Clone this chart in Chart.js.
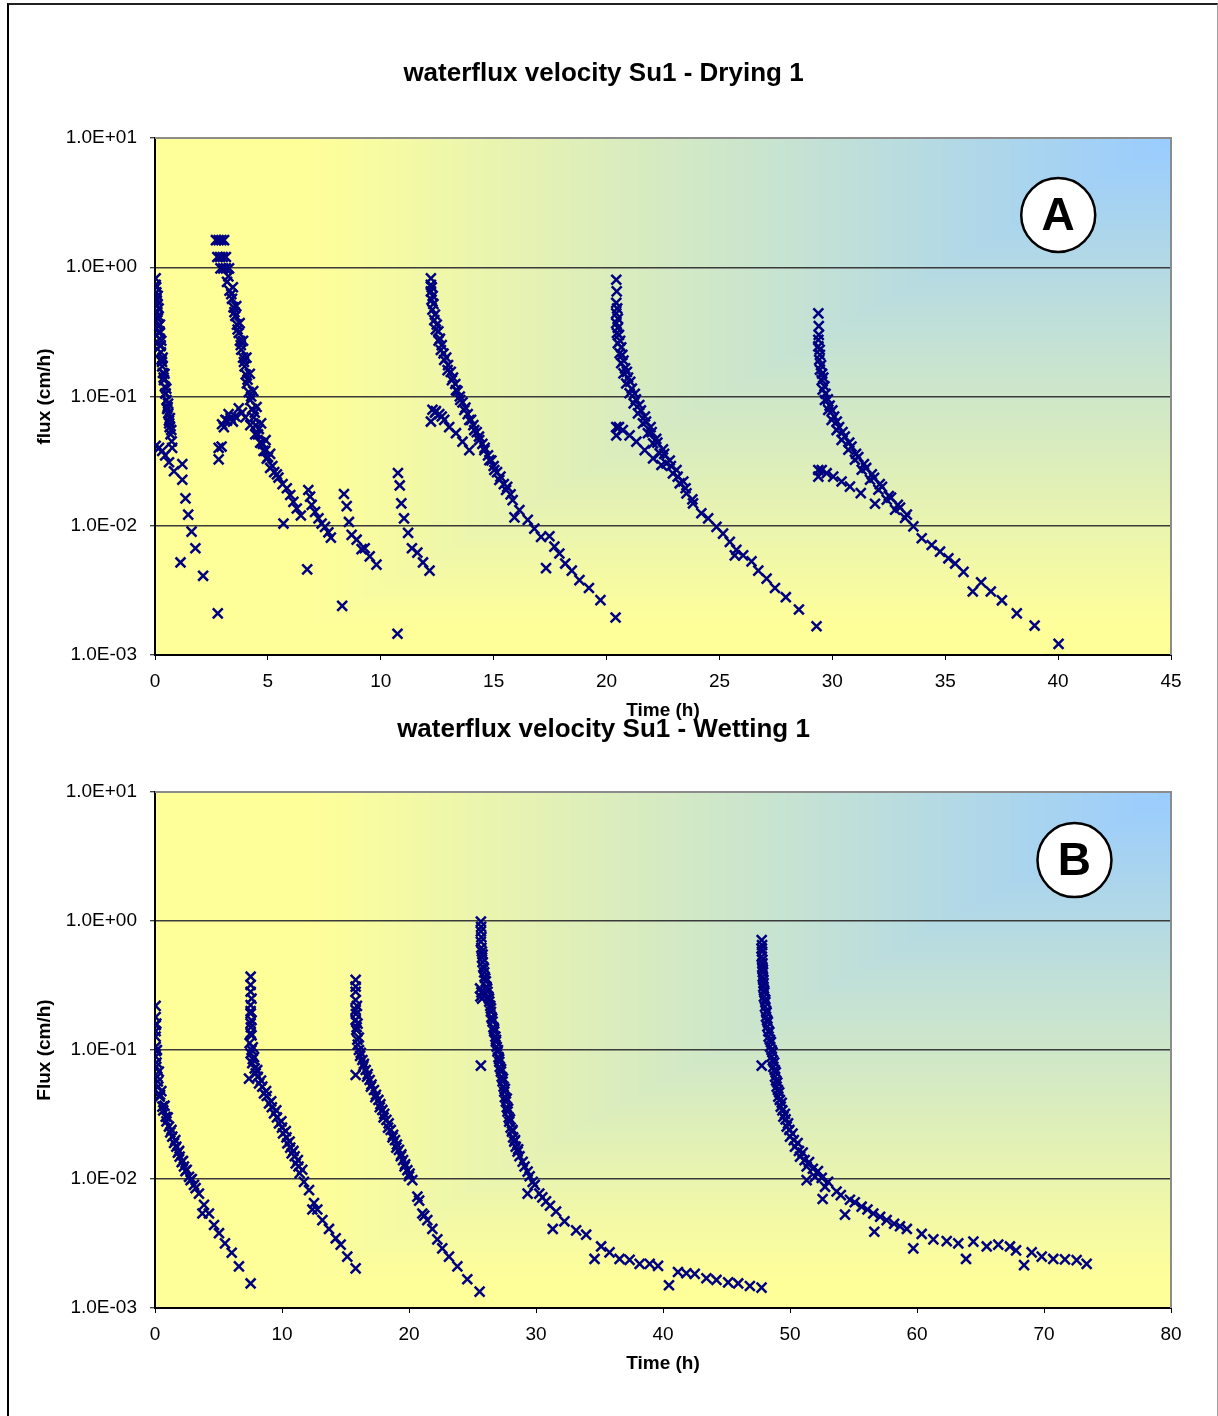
<!DOCTYPE html>
<html>
<head>
<meta charset="utf-8">
<title>waterflux velocity Su1</title>
<script src="https://cdn.jsdelivr.net/npm/chart.js@4.4.1/dist/chart.umd.min.js"></script>
<style>
  html, body { margin: 0; padding: 0; background: #fff; }
  body { width: 1218px; height: 1416px; position: relative; overflow: hidden; }
  #frame { position: absolute; left: 7px; top: 3px; width: 1211px; height: 1430px; box-sizing: border-box;
           border-top: 2px solid #222; border-left: 2px solid #000; border-right: 1px solid #a0a0a0; }
  canvas { position: absolute; left: 0; }
  #dryingChart { top: 0; }
  #wettingChart { top: 660px; }
</style>
</head>
<body>
<div id="frame"></div>
<canvas id="dryingChart" width="1218" height="725"></canvas>
<canvas id="wettingChart" width="1218" height="756"></canvas>
<script>
// ---- Data: [time (h), flux (cm/h)] ----

// Drying 1 (panel A)
const dry1 = [
  [0.03,0.82],[0.03,0.73],[0.06,0.64],[0.06,0.57],[0.09,0.51],[0.10,0.45],[0.12,0.40],[0.15,0.35],[0.18,0.31],
  [0.21,0.28],[0.24,0.245],[0.26,0.22],[0.29,0.193],[0.32,0.171],[0.35,0.152],[0.40,0.134],[0.44,0.119],
  [0.47,0.106],[0.51,0.094],[0.56,0.083],[0.59,0.074],[0.62,0.065],[0.65,0.058],[0.69,0.051],[0.74,0.045],[0.76,0.040],
  [0.12,0.60],[0.16,0.48],[0.22,0.36],[0.28,0.27],[0.34,0.20],[0.42,0.15],[0.50,0.115],[0.58,0.088],[0.66,0.068],[0.72,0.055],
  [0.05,0.70],[0.08,0.55],[0.14,0.42],[0.20,0.32],[0.25,0.25],[0.31,0.185],[0.38,0.14],[0.46,0.105],[0.54,0.080],[0.63,0.062],
  [0.03,0.0415],[0.18,0.040],[0.32,0.038],[0.45,0.035],[0.62,0.031],[0.84,0.0264],[1.21,0.030],[1.21,0.0227],
  [1.35,0.0163],[1.47,0.0122],[1.62,0.0090],[1.79,0.0067],[1.13,0.0052],[2.13,0.0041],[2.78,0.0021]
];
const dry2 = [
  [2.70,1.62],[2.82,1.62],[2.94,1.62],[3.06,1.62],[2.76,1.20],[2.88,1.20],[3.00,1.20],[3.14,1.20],
  [2.90,0.98],[3.02,0.98],[3.14,0.98],[3.28,0.98],
  [3.19,0.77],[3.30,0.66],[3.41,0.57],[3.48,0.49],[3.56,0.42],[3.63,0.36],[3.71,0.31],[3.76,0.27],[3.82,0.23],
  [3.90,0.20],[3.97,0.171],[4.02,0.148],[4.07,0.126],[4.15,0.108],[4.22,0.094],[4.30,0.080],[4.37,0.069],
  [4.46,0.060],[4.56,0.051],[4.68,0.044],[4.81,0.038],[4.95,0.033],[5.10,0.028],[5.28,0.026],[5.47,0.0236],
  [5.65,0.021],[5.84,0.0195],[5.99,0.0173],[6.13,0.0153],[6.28,0.0136],[6.46,0.0120],[5.69,0.0104],
  [3.45,0.70],[3.60,0.50],[3.75,0.37],[3.90,0.27],[4.05,0.20],[4.20,0.150],[4.35,0.110],[4.50,0.083],
  [4.70,0.062],[4.90,0.046],[5.10,0.036],
  [3.25,0.85],[3.38,0.62],[3.52,0.45],[3.66,0.33],[3.80,0.25],[3.94,0.185],[4.10,0.135],[4.26,0.100],
  [4.42,0.075],[4.60,0.056],[4.78,0.043],[5.00,0.034],[5.20,0.029],[5.40,0.025],
  [2.82,0.0326],[2.82,0.040],[2.95,0.041],[2.97,0.061],[3.05,0.058],[3.12,0.066],[3.19,0.065],[3.26,0.073],
  [3.35,0.068],[3.45,0.064],[3.55,0.070],[3.71,0.081],[3.85,0.075],[4.00,0.069],[4.22,0.060],[4.44,0.051],
  [4.66,0.044],[4.88,0.038]
];
const dry3 = [
  [6.79,0.0189],[6.87,0.0168],[6.94,0.0145],[7.09,0.0128],[7.24,0.0114],[7.38,0.0104],[7.53,0.0098],
  [7.68,0.0089],[7.79,0.0081],[6.74,0.0046]
];
const dry4 = [
  [8.37,0.0176],[8.49,0.0142],[8.59,0.0107],[8.71,0.0085],[8.93,0.0078],[9.15,0.0066],[9.29,0.0067],
  [9.51,0.0058],[9.81,0.0050],[8.29,0.0024]
];
const dry5 = [
  [10.76,0.0256],[10.84,0.0205],[10.91,0.0149],[11.03,0.0114],[11.21,0.0088],[11.38,0.0067],[11.62,0.0062],
  [11.87,0.0052],[12.16,0.0045],[10.74,0.00146]
];
const dry6 = [
  [12.22,0.82],[12.22,0.73],[12.22,0.65],[12.25,0.56],[12.29,0.47],[12.37,0.39],[12.44,0.33],[12.56,0.27],
  [12.66,0.229],[12.81,0.192],[12.96,0.160],[13.15,0.134],[13.33,0.112],[13.52,0.094],[13.70,0.0786],
  [13.92,0.0658],[14.14,0.055],[14.36,0.046],[14.59,0.0385],[14.81,0.0322],[15.03,0.027],[15.25,0.0226],
  [15.55,0.0189],[15.84,0.0158],[16.14,0.0132],[16.51,0.0111],[16.80,0.0095],[17.10,0.0082],[17.47,0.0083],
  [17.69,0.0069],[17.91,0.0061],[18.17,0.0051],[18.46,0.0045],[18.80,0.0038],[19.22,0.0033],[19.73,0.00266],
  [20.40,0.00195],[17.32,0.0047],[15.92,0.0116],
  [12.30,0.60],[12.40,0.43],[12.55,0.32],[12.70,0.25],[12.90,0.20],[13.10,0.155],[13.30,0.125],[13.50,0.100],
  [13.75,0.082],[14.00,0.066],[14.25,0.053],[14.50,0.043],[14.75,0.035],[15.00,0.029],[15.30,0.024],[15.60,0.020],
  [12.26,0.70],[12.33,0.52],[12.48,0.36],[12.62,0.28],[12.78,0.215],[12.98,0.175],[13.20,0.140],[13.40,0.110],
  [13.62,0.090],[13.85,0.073],[14.10,0.060],[14.35,0.049],[14.60,0.040],[14.90,0.032],[15.15,0.026],
  [15.45,0.021],[15.75,0.0175],
  [12.22,0.064],[12.29,0.079],[12.40,0.075],[12.44,0.077],[12.59,0.073],[12.70,0.070],[12.81,0.066],
  [13.03,0.058],[13.33,0.052],[13.62,0.0447],[13.92,0.0385]
];
const dry7 = [
  [20.43,0.80],[20.43,0.53],[20.43,0.44],[20.43,0.37],[20.46,0.31],[20.50,0.258],[20.58,0.216],[20.65,0.181],
  [20.75,0.151],[20.87,0.126],[21.02,0.106],[21.20,0.0885],[21.39,0.074],[21.61,0.062],[21.83,0.052],
  [22.06,0.0434],[22.35,0.0363],[22.65,0.0304],[22.94,0.0254],[23.24,0.0213],[23.54,0.0178],[23.83,0.0149],
  [24.20,0.0125],[24.50,0.0114],[24.87,0.0098],[25.16,0.0087],[25.46,0.0075],[25.75,0.0065],[26.05,0.0059],
  [26.42,0.0053],[26.72,0.0045],[27.09,0.0039],[27.46,0.0033],[27.94,0.0028],[28.52,0.00225],[29.30,0.00167],
  [25.68,0.0059],
  [20.50,0.40],[20.55,0.30],[20.65,0.24],[20.75,0.19],[20.90,0.155],[21.05,0.130],[21.25,0.105],[21.45,0.086],
  [21.70,0.070],[21.95,0.058],[22.20,0.047],[22.50,0.039],[22.80,0.032],[23.10,0.027],[23.40,0.022],
  [20.45,0.65],[20.47,0.48],[20.50,0.34],[20.60,0.27],[20.70,0.21],[20.82,0.165],[20.95,0.140],[21.12,0.115],
  [21.30,0.095],[21.52,0.078],[21.75,0.064],[22.00,0.053],[22.25,0.044],[22.55,0.036],[22.85,0.029],
  [23.15,0.024],[23.50,0.0195],[23.80,0.016],
  [20.43,0.050],[20.43,0.058],[20.55,0.058],[20.72,0.055],[21.02,0.050],[21.32,0.0447],[21.69,0.0385],
  [22.06,0.0332],[22.43,0.0295]
];
const dry8 = [
  [29.38,0.44],[29.38,0.274],[29.38,0.244],[29.42,0.192],[29.45,0.161],[29.53,0.134],[29.57,0.113],[29.67,0.094],
  [29.82,0.0788],[29.97,0.066],[30.19,0.055],[30.41,0.0462],[30.71,0.0387],[31.00,0.0324],[31.30,0.0271],
  [31.67,0.0227],[32.04,0.019],[32.41,0.0159],[32.78,0.0133],[33.22,0.0115],[33.59,0.0099],[33.96,0.0080],
  [34.40,0.0071],[34.77,0.0063],[35.14,0.0056],[35.44,0.0051],[35.81,0.0044],[36.22,0.0031],[36.59,0.00365],
  [37.02,0.0031],[37.51,0.00265],[38.17,0.0021],[38.96,0.00169],[40.02,0.00122],
  [29.45,0.21],[29.55,0.15],[29.65,0.12],[29.80,0.095],[30.00,0.078],[30.20,0.064],[30.45,0.053],[30.75,0.044],
  [31.05,0.036],[31.40,0.030],[31.75,0.025],[32.10,0.021],[32.50,0.017],[32.90,0.0145],[33.30,0.0122],
  [29.40,0.35],[29.40,0.30],[29.44,0.23],[29.50,0.175],[29.60,0.140],[29.70,0.105],[29.88,0.085],[30.08,0.070],
  [30.30,0.058],[30.55,0.049],[30.85,0.041],[31.15,0.034],[31.50,0.028],[31.85,0.0235],[32.20,0.020],
  [32.60,0.0165],[33.00,0.0138],
  [29.38,0.024],[29.38,0.027],[29.53,0.027],[29.75,0.0255],[30.04,0.024],[30.41,0.022],[30.78,0.0201],
  [31.26,0.0179],[31.89,0.0148]
];

// Wetting 1 (panel B)
const wet1 = [
  [0.05,0.22],[0.05,0.156],[0.05,0.127],[0.05,0.106],[0.05,0.089],[0.10,0.074],[0.18,0.062],[0.26,0.052],
  [0.37,0.0435],[0.58,0.0364],[0.84,0.0304],[1.10,0.0255],[1.36,0.0213],[1.68,0.0178],[1.94,0.0149],
  [2.28,0.0125],[2.68,0.0104],[3.07,0.0090],[3.46,0.0077],[3.86,0.0063],[3.73,0.0054],[4.25,0.0054],
  [4.65,0.0044],[5.04,0.0038],[5.51,0.00317],[6.04,0.00268],[6.61,0.0021],[7.53,0.00155],
  [0.10,0.16],[0.15,0.10],[0.30,0.068],[0.50,0.048],[0.75,0.037],[1.00,0.030],[1.30,0.024],[1.60,0.020],
  [1.90,0.0165],[2.20,0.0138],[2.50,0.0118],[2.90,0.0100],
  [0.05,0.18],[0.05,0.14],[0.07,0.098],[0.12,0.080],[0.22,0.057],[0.40,0.045],[0.65,0.034],[0.90,0.028],
  [1.20,0.023],[1.50,0.019],[1.80,0.016],[2.10,0.0135],[2.40,0.0115],[2.80,0.0098],[3.20,0.0085]
];
const wet2 = [
  [7.53,0.37],[7.53,0.283],[7.53,0.223],[7.53,0.192],[7.53,0.161],[7.53,0.135],[7.45,0.113],[7.53,0.094],
  [7.66,0.079],[7.40,0.060],[7.93,0.066],[8.19,0.055],[8.58,0.046],[8.98,0.0386],[9.37,0.0323],[9.76,0.027],
  [10.08,0.0226],[10.42,0.0189],[10.76,0.0158],[11.08,0.0132],[11.39,0.0111],[11.73,0.0095],[12.13,0.0082],
  [12.52,0.0065],[12.78,0.0058],[12.39,0.0058],[13.18,0.0048],[13.70,0.0041],[14.23,0.00347],[14.62,0.0031],
  [15.14,0.0025],[15.80,0.00203],
  [7.60,0.25],[7.60,0.17],[7.60,0.13],[7.70,0.105],[7.80,0.088],[8.05,0.070],[8.35,0.058],[8.75,0.048],
  [9.15,0.040],[9.55,0.034],[9.95,0.028],[10.30,0.0235],[10.60,0.0195],[10.90,0.0165],[11.25,0.0140],[11.60,0.0118],
  [7.53,0.32],[7.53,0.20],[7.55,0.15],[7.60,0.100],[7.70,0.085],[7.85,0.072],[8.10,0.062],[8.45,0.052],
  [8.80,0.044],[9.20,0.036],[9.60,0.030],[10.00,0.025],[10.35,0.021],[10.65,0.0175],[11.00,0.015],[11.30,0.0125]
];
const wet3 = [
  [15.80,0.35],[15.80,0.283],[15.80,0.244],[15.80,0.204],[15.80,0.171],[15.85,0.143],[15.93,0.120],[16.06,0.100],
  [15.80,0.064],[16.33,0.0836],[16.59,0.070],[16.90,0.0585],[17.24,0.049],[17.59,0.041],[17.90,0.0343],
  [18.22,0.0287],[18.56,0.024],[18.90,0.020],[19.21,0.0168],[19.53,0.014],[19.87,0.0117],[20.26,0.0098],
  [20.66,0.0073],[20.80,0.0068],[21.05,0.0054],[21.20,0.0052],[21.44,0.0048],[21.84,0.0041],[22.23,0.0034],
  [22.62,0.0029],[23.15,0.0025],[23.81,0.0021],[24.59,0.00167],[25.56,0.00134],
  [15.90,0.22],[15.95,0.16],[16.05,0.125],[16.20,0.095],[16.45,0.078],[16.75,0.065],[17.05,0.054],[17.40,0.045],
  [17.75,0.038],[18.05,0.032],[18.40,0.027],[18.75,0.022],[19.05,0.0185],[19.40,0.0155],[19.70,0.013],[20.05,0.011],
  [15.80,0.31],[15.82,0.19],[15.88,0.15],[15.97,0.110],[16.15,0.090],[16.40,0.075],[16.70,0.062],[17.00,0.052],
  [17.35,0.043],[17.70,0.036],[18.00,0.030],[18.35,0.025],[18.70,0.021],[19.00,0.0175],[19.35,0.015],
  [19.65,0.0125],[20.00,0.0105]
];
const wet4 = [
  [25.66,0.99],[25.66,0.83],[25.66,0.69],[25.74,0.58],[25.79,0.48],[25.92,0.40],[25.60,0.30],[25.62,0.26],
  [25.75,0.25],[25.70,0.28],[26.05,0.34],[26.18,0.283],[26.32,0.237],[26.45,0.198],[26.58,0.166],[26.71,0.139],
  [26.84,0.116],[26.97,0.097],[27.11,0.081],[27.24,0.068],[27.37,0.057],[27.50,0.0475],[27.63,0.0398],
  [27.76,0.0333],[27.89,0.0278],[28.11,0.0233],[28.29,0.0195],[28.55,0.0163],[28.95,0.0136],[29.34,0.0114],
  [29.74,0.0095],[29.34,0.0077],[30.26,0.0077],[30.79,0.0067],[31.58,0.0056],[31.32,0.0041],[32.24,0.0047],
  [33.16,0.0040],[33.95,0.0037],[34.61,0.0024],[35.13,0.0030],[35.79,0.0027],[36.58,0.0024],[37.37,0.00236],
  [38.16,0.0022],[38.95,0.0022],[39.61,0.00212],[40.47,0.0015],[41.18,0.0019],[41.84,0.00186],[42.50,0.00184],
  [43.42,0.0017],[44.21,0.00165],[45.13,0.00158],[45.92,0.00155],[46.84,0.00148],[47.76,0.00144],[25.66,0.0756],
  [25.70,0.75],[25.75,0.52],[25.85,0.44],[25.95,0.37],[26.10,0.31],[26.25,0.26],[26.40,0.22],[26.50,0.18],
  [26.65,0.15],[26.80,0.127],[26.90,0.106],[27.05,0.088],[27.15,0.074],[27.30,0.062],[27.45,0.052],[27.55,0.043],
  [27.70,0.036],[27.85,0.030],[28.00,0.025],[28.20,0.021],[28.40,0.0178],[28.70,0.015],[29.10,0.0125],
  [29.50,0.0105],[29.90,0.0090],[30.50,0.0072],[31.10,0.0062],
  [25.68,0.90],[25.70,0.62],[25.80,0.55],[25.90,0.43],[26.00,0.36],[26.15,0.30],[26.30,0.25],[26.45,0.21],
  [26.55,0.175],[26.70,0.145],[26.85,0.120],[27.00,0.100],[27.10,0.085],[27.25,0.071],[27.40,0.060],
  [27.55,0.050],[27.70,0.042],[27.80,0.035],[27.95,0.029],[28.15,0.024],[28.35,0.020],[28.60,0.017]
];
const wet5 = [
  [47.77,0.71],[47.77,0.61],[47.77,0.53],[47.82,0.44],[47.85,0.37],[47.90,0.31],[47.95,0.259],[48.03,0.217],
  [48.11,0.181],[48.22,0.152],[48.32,0.127],[48.43,0.106],[48.56,0.0888],[48.69,0.074],[47.77,0.0756],
  [48.82,0.062],[48.95,0.052],[49.08,0.0435],[49.27,0.0364],[49.48,0.0304],[49.74,0.0255],[50.00,0.0213],
  [50.39,0.0178],[50.79,0.0149],[51.31,0.0125],[51.97,0.0104],[51.31,0.0098],[52.76,0.0087],[52.57,0.0070],
  [53.67,0.0080],[54.33,0.0053],[54.72,0.0069],[55.64,0.0061],[56.56,0.0054],[56.64,0.0039],[57.61,0.0048],
  [58.66,0.0043],[59.71,0.0029],[60.37,0.00375],[61.29,0.0034],[62.34,0.0033],[63.25,0.00317],[63.86,0.0024],
  [64.44,0.00327],[65.49,0.0030],[66.40,0.0031],[67.32,0.0030],[67.80,0.0028],[68.43,0.00215],[69.03,0.0027],
  [69.82,0.0025],[70.73,0.0024],[71.65,0.00238],[72.57,0.00235],[73.36,0.0022],
  [47.80,0.58],[47.83,0.47],[47.87,0.40],[47.92,0.33],[47.98,0.28],[48.06,0.235],[48.15,0.195],[48.25,0.165],
  [48.37,0.138],[48.50,0.115],[48.62,0.096],[48.75,0.080],[48.88,0.067],[49.00,0.056],[49.15,0.047],
  [49.35,0.039],[49.60,0.032],[49.85,0.027],[50.20,0.0225],[50.60,0.019],[51.00,0.016],[51.50,0.0135],
  [52.20,0.0115],[53.00,0.0095],[54.00,0.0075],[55.10,0.0066],[56.10,0.0058],[57.10,0.0051],[58.20,0.0045],
  [59.20,0.0041],
  [47.80,0.65],[47.82,0.50],[47.86,0.42],[47.90,0.35],[47.96,0.29],[48.05,0.245],[48.13,0.20],[48.20,0.17],
  [48.30,0.14],[48.42,0.12],[48.55,0.10],[48.65,0.083],[48.80,0.070],[48.90,0.058],[49.05,0.049],[49.20,0.041],
  [49.40,0.034],[49.65,0.029],[49.95,0.024],[50.30,0.020],[50.70,0.0165],[51.15,0.014],[51.80,0.012],[52.50,0.0102]
];

// Axes
const fluxTicks = [0.001, 0.01, 0.1, 1, 10];
const fluxTickLabels = ['1.0E-03', '1.0E-02', '1.0E-01', '1.0E+00', '1.0E+01'];
const timeTicksDrying = [0, 5, 10, 15, 20, 25, 30, 35, 40, 45];
const timeTicksWetting = [0, 10, 20, 30, 40, 50, 60, 70, 80];

// Plot styling
const YELLOW = [255, 255, 153];
const BLUE = [153, 204, 255];
const MARKER = '#000080';
const FONT = "'Liberation Sans', Arial, Helvetica, sans-serif";

/**
 * Excel-like "from corner" fill: blue in the top-right corner fading to yellow
 */
const bgCache = new WeakMap();
const plotBackground = {
    id: 'plotBackground',
    beforeDraw(chart) {
        const { ctx, chartArea: a } = chart;
        const w = Math.round(a.right - a.left);
        const h = Math.round(a.bottom - a.top);
        let off = bgCache.get(chart);
        if (!off || off.width !== w || off.height !== h) {
            off = document.createElement('canvas');
            off.width = w;
            off.height = h;
            const octx = off.getContext('2d');
            const img = octx.createImageData(w, h);
            for (let j = 0; j < h; j++) {
                for (let i = 0; i < w; i++) {
                    const u = (w - 1 - i) / (w - 1);
                    const v = j / (h - 1);
                    const t = Math.min(1, Math.max(u / 0.85, v / 0.95));
                    const k = (j * w + i) * 4;
                    img.data[k] = BLUE[0] + (YELLOW[0] - BLUE[0]) * t;
                    img.data[k + 1] = BLUE[1] + (YELLOW[1] - BLUE[1]) * t;
                    img.data[k + 2] = BLUE[2] + (YELLOW[2] - BLUE[2]) * t;
                    img.data[k + 3] = 255;
                }
            }
            octx.putImageData(img, 0, 0);
            bgCache.set(chart, off);
        }
        ctx.drawImage(off, a.left, a.top);
    }
};

// Grey top/right edge of the plot area plus the circled panel letter
const plotFrame = {
    id: 'plotFrame',
    afterDraw(chart, args, opts) {
        const { ctx, chartArea: a } = chart;
        ctx.save();
        ctx.strokeStyle = '#8c8c8c';
        ctx.lineWidth = 2;
        ctx.beginPath();
        ctx.moveTo(a.left, a.top);
        ctx.lineTo(a.right, a.top);
        ctx.lineTo(a.right, a.bottom);
        ctx.stroke();

        if (opts.letter) {
            const cx = a.left + opts.fx * (a.right - a.left);
            const cy = a.top + opts.fy * (a.bottom - a.top);
            ctx.beginPath();
            ctx.arc(cx, cy, 37, 0, Math.PI * 2);
            ctx.fillStyle = '#fff';
            ctx.fill();
            ctx.lineWidth = 2.5;
            ctx.strokeStyle = '#000';
            ctx.stroke();
            ctx.fillStyle = '#000';
            ctx.font = 'bold 46px ' + FONT;
            ctx.textAlign = 'center';
            ctx.textBaseline = 'middle';
            ctx.fillText(opts.letter, cx, cy + 2);
        }
        ctx.restore();
    }
};

function toPoints(segments) {
    return segments.flat().map(([t, f]) => ({ x: t, y: f }));
}

function buildChart(canvasId, cfg) {
    return new Chart(document.getElementById(canvasId), {
        type: 'scatter',
        data: {
            datasets: [{
                data: toPoints(cfg.segments),
                showLine: false,
                pointStyle: 'crossRot',
                pointRadius: 7,
                pointBorderWidth: 2.5,
                pointBorderColor: MARKER,
                pointBackgroundColor: MARKER
            }]
        },
        options: {
            responsive: false,
            devicePixelRatio: 1,
            animation: false,
            events: [],
            layout: { padding: { left: 36, right: 47, top: 0, bottom: cfg.padBottom } },
            plugins: {
                legend: { display: false },
                tooltip: { enabled: false },
                title: {
                    display: true,
                    text: cfg.title,
                    color: '#000',
                    font: { family: FONT, size: 26, weight: 'bold' },
                    padding: { top: cfg.titleTop, bottom: cfg.titleBottom }
                },
                plotFrame: { letter: cfg.letter, fx: cfg.letterX, fy: cfg.letterY }
            },
            scales: {
                x: {
                    type: 'linear',
                    min: 0,
                    max: cfg.xMax,
                    afterBuildTicks: s => { s.ticks = cfg.xTicks.map(v => ({ value: v })); },
                    afterFit: s => { s.height = 70; },
                    grid: { drawOnChartArea: false, drawTicks: true, tickLength: 5, tickColor: '#000', tickWidth: 1 },
                    border: { display: true, color: '#000', width: 2 },
                    ticks: {
                        autoSkip: false, maxRotation: 0, padding: 10, color: '#000',
                        font: { family: FONT, size: 19 },
                        callback: v => String(v)
                    },
                    title: {
                        display: true, text: 'Time (h)', color: '#000',
                        font: { family: FONT, size: 19, weight: 'bold' },
                        padding: { top: 0, bottom: 3 }
                    }
                },
                y: {
                    type: 'logarithmic',
                    position: 'left',
                    min: 0.001,
                    max: 10,
                    afterBuildTicks: s => { s.ticks = fluxTicks.map(v => ({ value: v })); },
                    afterFit: s => { s.width = 119; },
                    grid: {
                        drawOnChartArea: true, drawTicks: true, tickLength: 5, tickColor: '#000', tickWidth: 1,
                        lineWidth: 1.5,
                        color: c => (c.tick && c.tick.value === 10 ? 'rgba(0,0,0,0)' : '#3a3a3a')
                    },
                    border: { display: true, color: '#000', width: 2 },
                    ticks: {
                        autoSkip: false, padding: 13, color: '#000',
                        font: { family: FONT, size: 19 },
                        callback: (v, i) => fluxTickLabels[i]
                    },
                    title: {
                        display: true, text: cfg.yTitle, color: '#000',
                        font: { family: FONT, size: 19, weight: 'bold' },
                        padding: { top: -2.4, bottom: 0 }
                    }
                }
            }
        },
        plugins: [plotBackground, plotFrame]
    });
}

document.addEventListener('DOMContentLoaded', () => {
    buildChart('dryingChart', {
        title: 'waterflux velocity Su1 - Drying 1',
        yTitle: 'flux (cm/h)',
        segments: [dry1, dry2, dry3, dry4, dry5, dry6, dry7, dry8],
        xMax: 45,
        xTicks: timeTicksDrying,
        titleTop: 58.4,
        titleBottom: 48.4,
        padBottom: 0,
        letter: 'A', letterX: 0.889, letterY: 0.149
    });
    buildChart('wettingChart', {
        title: 'waterflux velocity Su1 - Wetting 1',
        yTitle: 'Flux (cm/h)',
        segments: [wet1, wet2, wet3, wet4, wet5],
        xMax: 80,
        xTicks: timeTicksWetting,
        titleTop: 54.4,
        titleBottom: 46.4,
        padBottom: 38,
        letter: 'B', letterX: 0.905, letterY: 0.132
    });
});
</script>
</body>
</html>
